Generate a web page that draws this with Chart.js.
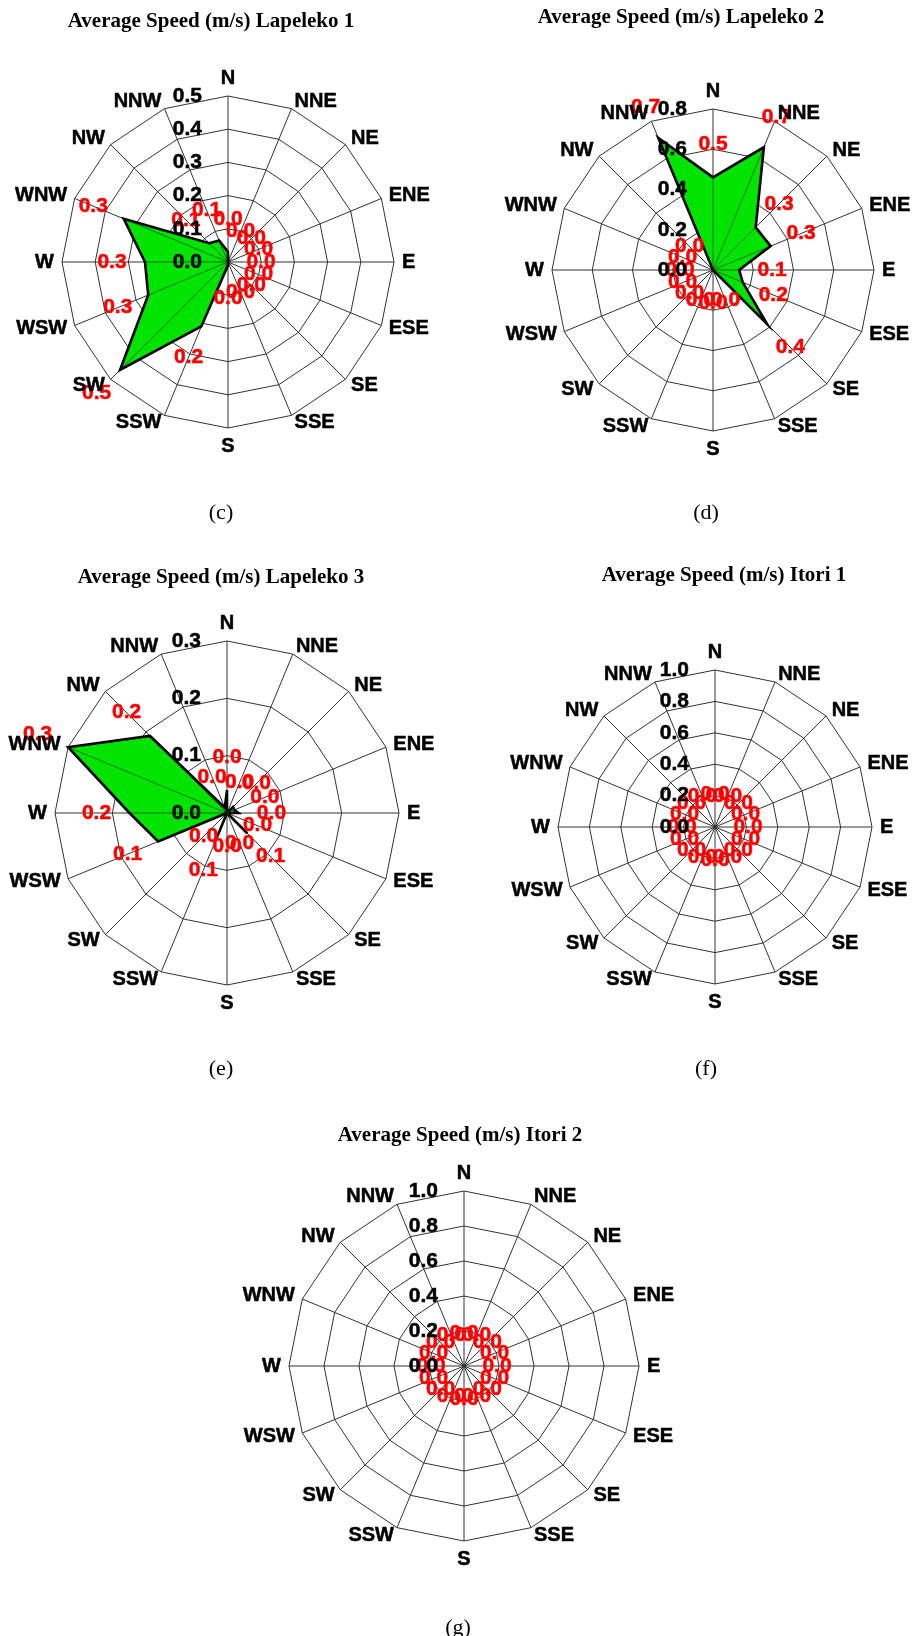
<!DOCTYPE html>
<html>
<head>
<meta charset="utf-8">
<script src="https://cdn.jsdelivr.net/npm/chart.js@4.4.1/dist/chart.umd.min.js"></script>
<style>
  html, body { margin: 0; padding: 0; background: #fff; }
  body { width: 918px; height: 1636px; position: relative; overflow: hidden; }
  canvas { position: absolute; }
  .title { position: absolute; font: bold 21px "Liberation Serif", "Times New Roman", serif; line-height: 1; white-space: nowrap; transform: translate(-50%, -50%); color: #000; }
  .cap { position: absolute; font: 22px "Liberation Serif", "Times New Roman", serif; line-height: 1; transform: translate(-50%, -50%); color: #000; }
</style>
</head>
<body>
<script>
'use strict';
// wind directions, clockwise from north
const directions = ['N', 'NNE', 'NE', 'ENE', 'E', 'ESE', 'SE', 'SSE', 'S', 'SSW', 'SW', 'WSW', 'W', 'WNW', 'NW', 'NNW'];

// average speed (m/s) per direction
const lapeleko1Speed = [0.03, 0, 0, 0, 0, 0, 0, 0, 0.01, 0.21, 0.46, 0.26, 0.25, 0.34, 0.08, 0.07];
const lapeleko2Speed = [0.46, 0.66, 0.30, 0.31, 0.13, 0.16, 0.38, 0, 0, 0, 0, 0, 0, 0, 0, 0.71];
const lapeleko3Speed = [0.04, 0, 0.015, 0.014, 0.02, 0, 0.05, 0, 0, 0.05, 0, 0.13, 0.17, 0.30, 0.19, 0.01];
const itori1Speed = [0, 0, 0, 0, 0, 0, 0, 0, 0, 0, 0, 0, 0, 0, 0, 0];
const itori2Speed = [0, 0, 0, 0, 0, 0, 0, 0, 0, 0, 0, 0, 0, 0, 0, 0];

const stationNames = ['Lapeleko 1', 'Lapeleko 2', 'Lapeleko 3', 'Itori 1', 'Itori 2'];
const panelLetters = ['(c)', '(d)', '(e)', '(f)', '(g)'];
const tickMax = [0.5, 0.8, 0.3, 1.0, 1.0];
const tickStep = [0.1, 0.2, 0.1, 0.2, 0.2];
const allSpeeds = [lapeleko1Speed, lapeleko2Speed, lapeleko3Speed, itori1Speed, itori2Speed];

// where each rose sits on the page: centre, radius, title, caption
const layout = [
    { cx: 228, cy: 262, r: 166, tx: 211, ty: 20, capX: 221, capY: 512 },
    { cx: 713, cy: 270, r: 161, tx: 681, ty: 16, capX: 706, capY: 512 },
    { cx: 227, cy: 813, r: 172, tx: 221, ty: 576, capX: 221, capY: 1068 },
    { cx: 715, cy: 827, r: 157, tx: 724, ty: 574, capX: 706, capY: 1068 },
    { cx: 464, cy: 1366, r: 175, tx: 460, ty: 1134, capX: 458, capY: 1627 }
];

const PAD = 75;
const dirFont = 'bold 20px "Liberation Sans", Arial, sans-serif';
const numFont = 'bold 21px "Liberation Sans", Arial, sans-serif';

// heavy text, a touch bolder than plain bold like the scanned figure
function heavyText(ctx, txt, x, y) {
    ctx.fillText(txt, x, y);
    ctx.strokeText(txt, x, y);
}

const roseLabels = {
    id: 'roseLabels',
    afterDatasetsDraw(chart) {
        const ctx = chart.ctx;
        const scale = chart.scales.r;
        const cx = scale.xCenter;
        const cy = scale.yCenter;
        const meta = chart.getDatasetMeta(0);
        const values = chart.data.datasets[0].data;
        ctx.save();
        // thin spokes seen inside the filled area
        ctx.strokeStyle = 'rgba(30,30,30,0.75)';
        ctx.lineWidth = 0.8;
        meta.data.forEach((pt, i) => {
            if (values[i] > 0) {
                ctx.beginPath();
                ctx.moveTo(cx, cy);
                ctx.lineTo(pt.x, pt.y);
                ctx.stroke();
            }
        });
        // red value labels, a little outside each vertex
        ctx.font = numFont;
        ctx.lineWidth = 0.5;
        ctx.fillStyle = '#ff0000';
        ctx.strokeStyle = '#ff0000';
        ctx.textAlign = 'center';
        ctx.textBaseline = 'middle';
        values.forEach((v, i) => {
            const q = scale.getPointPosition(i, scale.getDistanceFromCenterForValue(v) + 33);
            heavyText(ctx, v.toFixed(1), q.x, q.y);
        });
        // black tick labels left of the north axis
        ctx.fillStyle = '#000';
        ctx.strokeStyle = '#000';
        ctx.textAlign = 'right';
        scale.ticks.forEach(t => {
            const y = cy - scale.getDistanceFromCenterForValue(t.value);
            heavyText(ctx, t.value.toFixed(1), cx - 26, y);
        });
        // direction labels
        ctx.font = dirFont;
        chart.data.labels.forEach((lab, i) => {
            const q = scale.getPointPosition(i, scale.drawingArea + 8);
            if (i === 0) {
                ctx.textAlign = 'center';
                ctx.textBaseline = 'bottom';
            } else if (i === 8) {
                ctx.textAlign = 'center';
                ctx.textBaseline = 'top';
            } else if (i < 8) {
                ctx.textAlign = 'left';
                ctx.textBaseline = 'middle';
            } else {
                ctx.textAlign = 'right';
                ctx.textBaseline = 'middle';
            }
            heavyText(ctx, lab, q.x, q.y);
        });
        ctx.restore();
    }
};

function drawRose(k) {
    const pos = layout[k];
    const size = 2 * (pos.r + PAD);
    const canvas = document.createElement('canvas');
    canvas.width = size;
    canvas.height = size;
    canvas.style.left = (pos.cx - size / 2) + 'px';
    canvas.style.top = (pos.cy - size / 2) + 'px';
    canvas.style.width = size + 'px';
    canvas.style.height = size + 'px';
    document.body.appendChild(canvas);

    const title = document.createElement('div');
    title.className = 'title';
    title.textContent = 'Average Speed (m/s) ' + stationNames[k];
    title.style.left = pos.tx + 'px';
    title.style.top = pos.ty + 'px';
    document.body.appendChild(title);

    const cap = document.createElement('div');
    cap.className = 'cap';
    cap.textContent = panelLetters[k];
    cap.style.left = pos.capX + 'px';
    cap.style.top = pos.capY + 'px';
    document.body.appendChild(cap);

    new Chart(canvas, {
        type: 'radar',
        data: {
            labels: directions,
            datasets: [{
                data: allSpeeds[k],
                backgroundColor: '#00e400',
                borderColor: '#000000',
                borderWidth: 2.6,
                borderJoinStyle: 'miter',
                fill: true,
                pointRadius: 0,
                pointHoverRadius: 0,
                tension: 0
            }]
        },
        options: {
            responsive: false,
            animation: false,
            events: [],
            layout: { padding: PAD },
            plugins: {
                legend: { display: false },
                tooltip: { enabled: false }
            },
            scales: {
                r: {
                    min: 0,
                    max: tickMax[k],
                    ticks: { display: false, stepSize: tickStep[k] },
                    pointLabels: { display: false },
                    grid: { color: '#333', lineWidth: 1 },
                    angleLines: { color: '#333', lineWidth: 1 }
                }
            }
        },
        plugins: [roseLabels]
    });
}

for (let k = 0; k < layout.length; k++) {
    drawRose(k);
}
</script>
</body>
</html>
